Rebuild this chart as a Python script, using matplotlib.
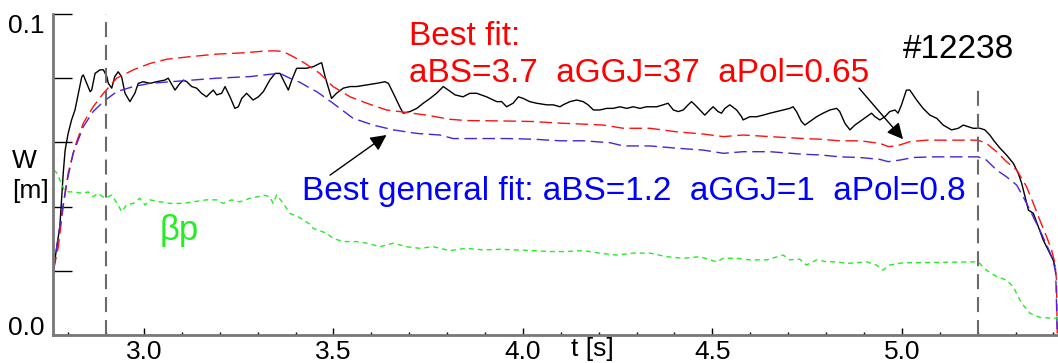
import matplotlib
matplotlib.use('Agg')
import matplotlib.pyplot as plt

plt.rcParams['font.family'] = ['Liberation Sans', 'DejaVu Sans']

# measured W (black)
t_meas = [2.762, 2.770, 2.778, 2.787, 2.792, 2.800, 2.809, 2.818, 2.827, 2.836, 2.840, 2.849, 2.858, 2.862,
          2.871, 2.884, 2.893, 2.902, 2.906, 2.915, 2.923, 2.932, 2.941, 2.950, 2.963, 2.976, 2.985, 2.998,
          3.016, 3.033, 3.055, 3.064, 3.082, 3.095, 3.104, 3.113, 3.126, 3.139, 3.152, 3.165, 3.174, 3.183,
          3.192, 3.205, 3.214, 3.227, 3.240, 3.249, 3.258, 3.271, 3.288, 3.302, 3.315, 3.332, 3.346, 3.359,
          3.372, 3.381, 3.390, 3.403, 3.416, 3.429, 3.447, 3.464, 3.469, 3.478, 3.495, 3.508, 3.526, 3.544,
          3.561, 3.588, 3.614, 3.636, 3.645, 3.658, 3.675, 3.684, 3.702, 3.720, 3.737, 3.755, 3.772, 3.790,
          3.803, 3.821, 3.842, 3.860, 3.878, 3.904, 3.931, 3.944, 3.957, 3.974, 3.988, 4.001, 4.018, 4.036,
          4.063, 4.080, 4.098, 4.106, 4.124, 4.142, 4.159, 4.172, 4.186, 4.203, 4.221, 4.238, 4.256, 4.274,
          4.291, 4.309, 4.326, 4.353, 4.370, 4.383, 4.397, 4.410, 4.423, 4.436, 4.445, 4.454, 4.467, 4.480,
          4.493, 4.502, 4.515, 4.524, 4.533, 4.546, 4.564, 4.577, 4.581, 4.599, 4.617, 4.634, 4.652, 4.669,
          4.687, 4.704, 4.713, 4.722, 4.735, 4.744, 4.757, 4.775, 4.792, 4.810, 4.828, 4.836, 4.850, 4.863,
          4.876, 4.889, 4.907, 4.920, 4.929, 4.942, 4.955, 4.968, 4.982, 4.990, 4.999, 5.012, 5.021, 5.039,
          5.056, 5.074, 5.092, 5.109, 5.131, 5.149, 5.162, 5.175, 5.188, 5.206, 5.219, 5.232, 5.245, 5.259,
          5.276, 5.294, 5.307, 5.316, 5.325, 5.334, 5.347, 5.360, 5.373, 5.386, 5.399, 5.404]
w_meas = [0.0210, 0.0275, 0.0337, 0.0504, 0.0576, 0.0628, 0.0670, 0.0701, 0.0753, 0.0805, 0.0810, 0.0784,
          0.0758, 0.0763, 0.0815, 0.0826, 0.0826, 0.0805, 0.0784, 0.0769, 0.0805, 0.0820, 0.0805, 0.0753,
          0.0727, 0.0753, 0.0784, 0.0789, 0.0784, 0.0789, 0.0794, 0.0800, 0.0763, 0.0784, 0.0794, 0.0789,
          0.0774, 0.0769, 0.0753, 0.0742, 0.0753, 0.0763, 0.0748, 0.0753, 0.0774, 0.0742, 0.0706, 0.0711,
          0.0737, 0.0753, 0.0732, 0.0742, 0.0758, 0.0794, 0.0815, 0.0815, 0.0784, 0.0763, 0.0794, 0.0831,
          0.0831, 0.0831, 0.0836, 0.0846, 0.0848, 0.0805, 0.0737, 0.0753, 0.0769, 0.0774, 0.0774, 0.0779,
          0.0784, 0.0789, 0.0784, 0.0753, 0.0711, 0.0691, 0.0696, 0.0706, 0.0722, 0.0737, 0.0753, 0.0774,
          0.0763, 0.0748, 0.0742, 0.0753, 0.0753, 0.0742, 0.0727, 0.0727, 0.0711, 0.0722, 0.0742, 0.0737,
          0.0727, 0.0722, 0.0717, 0.0717, 0.0711, 0.0717, 0.0727, 0.0732, 0.0727, 0.0717, 0.0701, 0.0701,
          0.0706, 0.0706, 0.0711, 0.0706, 0.0711, 0.0706, 0.0711, 0.0711, 0.0717, 0.0722, 0.0701, 0.0696,
          0.0701, 0.0717, 0.0727, 0.0717, 0.0701, 0.0685, 0.0701, 0.0711, 0.0696, 0.0691, 0.0706, 0.0717,
          0.0701, 0.0680, 0.0670, 0.0680, 0.0680, 0.0685, 0.0691, 0.0696, 0.0701, 0.0706, 0.0711, 0.0696,
          0.0665, 0.0654, 0.0665, 0.0680, 0.0691, 0.0701, 0.0706, 0.0696, 0.0659, 0.0639, 0.0654, 0.0665,
          0.0680, 0.0691, 0.0680, 0.0670, 0.0680, 0.0696, 0.0701, 0.0691, 0.0717, 0.0763, 0.0763, 0.0732,
          0.0706, 0.0685, 0.0675, 0.0654, 0.0639, 0.0644, 0.0654, 0.0649, 0.0644, 0.0644, 0.0639, 0.0623,
          0.0602, 0.0582, 0.0561, 0.0535, 0.0504, 0.0473, 0.0431, 0.0389, 0.0379, 0.0337, 0.0296, 0.0265,
          0.0234, 0.0215]

# best fit (red)
t_best = [2.762, 2.774, 2.787, 2.800, 2.818, 2.840, 2.866, 2.893, 2.928, 2.972, 3.016, 3.060, 3.121, 3.192,
          3.262, 3.324, 3.350, 3.368, 3.394, 3.420, 3.438, 3.464, 3.499, 3.544, 3.588, 3.640, 3.675, 3.746,
          3.807, 3.851, 3.939, 4.027, 4.098, 4.159, 4.212, 4.265, 4.335, 4.405, 4.476, 4.529, 4.581, 4.652,
          4.740, 4.784, 4.836, 4.889, 4.942, 4.964, 4.986, 5.021, 5.065, 5.127, 5.201, 5.223, 5.250, 5.276,
          5.303, 5.329, 5.347, 5.364, 5.382, 5.395, 5.404, 5.408, 5.410]
w_best = [0.0205, 0.0275, 0.0400, 0.0504, 0.0587, 0.0660, 0.0711, 0.0753, 0.0800, 0.0826, 0.0846, 0.0859,
          0.0867, 0.0875, 0.0879, 0.0885, 0.0885, 0.0883, 0.0867, 0.0850, 0.0836, 0.0815, 0.0774, 0.0742,
          0.0722, 0.0701, 0.0696, 0.0685, 0.0672, 0.0668, 0.0667, 0.0665, 0.0660, 0.0657, 0.0654, 0.0644,
          0.0644, 0.0633, 0.0626, 0.0618, 0.0623, 0.0618, 0.0612, 0.0610, 0.0605, 0.0605, 0.0597, 0.0587,
          0.0589, 0.0602, 0.0607, 0.0607, 0.0607, 0.0597, 0.0571, 0.0540, 0.0514, 0.0462, 0.0410, 0.0358,
          0.0306, 0.0265, 0.0223, 0.0171, 0.0005]

# best general fit (blue)
t_gen = [2.762, 2.770, 2.783, 2.796, 2.813, 2.840, 2.866, 2.893, 2.928, 2.972, 3.016, 3.104, 3.192, 3.280,
         3.332, 3.359, 3.385, 3.412, 3.438, 3.456, 3.499, 3.552, 3.605, 3.658, 3.720, 3.781, 3.816, 3.878,
         3.957, 4.027, 4.098, 4.159, 4.230, 4.265, 4.335, 4.405, 4.476, 4.529, 4.581, 4.652, 4.740, 4.784,
         4.836, 4.889, 4.942, 4.964, 4.995, 5.030, 5.083, 5.201, 5.223, 5.250, 5.276, 5.303, 5.320, 5.338,
         5.364, 5.386, 5.399, 5.406, 5.410]
w_gen = [0.0205, 0.0275, 0.0379, 0.0473, 0.0566, 0.0649, 0.0696, 0.0727, 0.0758, 0.0774, 0.0784, 0.0792,
         0.0800, 0.0805, 0.0812, 0.0815, 0.0800, 0.0787, 0.0769, 0.0758, 0.0722, 0.0675, 0.0654, 0.0639,
         0.0628, 0.0623, 0.0612, 0.0612, 0.0612, 0.0610, 0.0605, 0.0605, 0.0599, 0.0589, 0.0589, 0.0582,
         0.0576, 0.0566, 0.0571, 0.0571, 0.0563, 0.0561, 0.0555, 0.0553, 0.0547, 0.0540, 0.0545, 0.0553,
         0.0555, 0.0555, 0.0545, 0.0514, 0.0493, 0.0467, 0.0431, 0.0389, 0.0327, 0.0270, 0.0234, 0.0192,
         0.0005]

# beta_p (green)
t_bp = [2.762, 2.770, 2.778, 2.792, 2.813, 2.840, 2.853, 2.866, 2.879, 2.897, 2.915, 2.932, 2.941, 2.954,
        2.972, 2.989, 3.003, 3.016, 3.042, 3.069, 3.104, 3.130, 3.165, 3.192, 3.209, 3.231, 3.253, 3.280,
        3.302, 3.315, 3.332, 3.341, 3.350, 3.368, 3.385, 3.412, 3.438, 3.447, 3.482, 3.499, 3.526, 3.561,
        3.588, 3.623, 3.658, 3.693, 3.728, 3.763, 3.807, 3.851, 3.895, 3.939, 3.983, 4.027, 4.071, 4.115,
        4.159, 4.203, 4.247, 4.291, 4.335, 4.379, 4.423, 4.467, 4.511, 4.529, 4.564, 4.599, 4.643, 4.687,
        4.704, 4.731, 4.748, 4.775, 4.802, 4.828, 4.854, 4.880, 4.907, 4.933, 4.950, 4.968, 5.003, 5.083,
        5.201, 5.223, 5.250, 5.276, 5.294, 5.316, 5.338, 5.364, 5.399, 5.410]
w_bp = [0.0514, 0.0505, 0.0483, 0.0446, 0.0446, 0.0441, 0.0446, 0.0431, 0.0441, 0.0426, 0.0436, 0.0405,
        0.0384, 0.0405, 0.0410, 0.0426, 0.0405, 0.0421, 0.0415, 0.0410, 0.0410, 0.0415, 0.0421, 0.0421,
        0.0410, 0.0421, 0.0415, 0.0426, 0.0431, 0.0436, 0.0431, 0.0410, 0.0436, 0.0410, 0.0379, 0.0365,
        0.0345, 0.0332, 0.0317, 0.0301, 0.0291, 0.0291, 0.0286, 0.0275, 0.0286, 0.0275, 0.0270, 0.0275,
        0.0263, 0.0270, 0.0265, 0.0267, 0.0265, 0.0263, 0.0260, 0.0260, 0.0263, 0.0255, 0.0249, 0.0255,
        0.0255, 0.0244, 0.0239, 0.0244, 0.0228, 0.0239, 0.0239, 0.0234, 0.0234, 0.0249, 0.0234, 0.0236,
        0.0218, 0.0234, 0.0228, 0.0228, 0.0223, 0.0225, 0.0228, 0.0218, 0.0202, 0.0218, 0.0225, 0.0226,
        0.0228, 0.0202, 0.0182, 0.0171, 0.0150, 0.0099, 0.0068, 0.0055, 0.0052, 0.0052]

# time window markers
t_marks = [2.9, 5.2]
w_mark_top = [0.1, 0.0765]

xticks = [3.0, 3.5, 4.0, 4.5, 5.0]
xtick_labels = ['3.0', '3.5', '4.0', '4.5', '5.0']
yticks = [0.0, 0.02, 0.04, 0.06, 0.08, 0.1]
ytick_labels = ['0.0', '', '', '', '', '0.1']


def plot_w():
    fig = plt.figure(figsize=(10.58, 3.63), dpi=100)
    ax = fig.add_axes([53 / 1058, 28 / 363, 1 - 53 / 1058, 321 / 363])

    ax.plot(t_meas, w_meas, color='black', lw=1.0)
    ax.plot(t_best, w_best, color='#ff1010', lw=1.0, dashes=(9, 4))
    ax.plot(t_gen, w_gen, color='#4a22d8', lw=1.0, dashes=(9, 4))
    ax.plot(t_bp, w_bp, color='#22ee22', lw=1.0, dashes=(3.6, 2.9))

    for tm, top in zip(t_marks, w_mark_top):
        ax.plot([tm, tm], [0, top], color='#6a6a6a', lw=1.5, dashes=(7.2, 3.8))

    ax.set_xlim(2.76, 5.412)
    ax.set_ylim(0, 0.1)

    for s in ['top', 'right']:
        ax.spines[s].set_visible(False)
    for s in ['left', 'bottom']:
        ax.spines[s].set_color('#777777')
        ax.spines[s].set_linewidth(2)

    ax.set_xticks(xticks)
    ax.set_xticklabels(xtick_labels, fontsize=19)
    ax.set_xticks([2.8 + 0.1 * i for i in range(27)], minor=True)
    ax.tick_params(axis='x', which='major', direction='in', length=5, width=1, color='k', pad=3.5)
    ax.tick_params(axis='x', which='minor', direction='in', length=2.5, width=1, color='k')

    ax.set_yticks(yticks)
    ax.set_yticklabels(ytick_labels, fontsize=19)
    ax.tick_params(axis='y', which='major', direction='in', length=14, width=1, color='k', pad=6)
    ylabs = ax.get_yticklabels()
    ylabs[0].set_va('baseline')
    ylabs[-1].set_va('top')

    fig.text(592 / 1058, 0.072, 't [s]', ha='center', va='top', fontsize=19)
    fig.text(12 / 1058, 0.537, 'W', ha='left', va='baseline', fontsize=19)
    fig.text(12 / 1058, 0.4545, '[m]', ha='left', va='baseline', fontsize=19)

    ax.text(3.699, 0.0903, 'Best fit:', color='red', fontsize=24, va='baseline')
    ax.text(3.699, 0.0788, 'aBS=3.7  aGGJ=37  aPol=0.65', color='red', fontsize=24, va='baseline')
    ax.text(5.003, 0.0863, '#12238', color='black', fontsize=24, va='baseline')
    ax.text(3.417, 0.0421, 'Best general fit: aBS=1.2  aGGJ=1  aPol=0.8', color='blue', fontsize=24,
            va='baseline')
    ax.text(3.042, 0.0296, '\u03b2p', color='#22ee22', fontsize=25, va='baseline')

    ax.annotate('', xy=(5.003, 0.0610), xytext=(4.887, 0.0769),
                arrowprops=dict(arrowstyle='-|>', color='k', lw=1, mutation_scale=24, shrinkA=0, shrinkB=0))
    ax.annotate('', xy=(3.640, 0.0623), xytext=(3.491, 0.0498),
                arrowprops=dict(arrowstyle='-|>', color='k', lw=1, mutation_scale=24, shrinkA=0, shrinkB=0))
    return fig


fig = plot_w()
fig.savefig('out.png', dpi=100)
